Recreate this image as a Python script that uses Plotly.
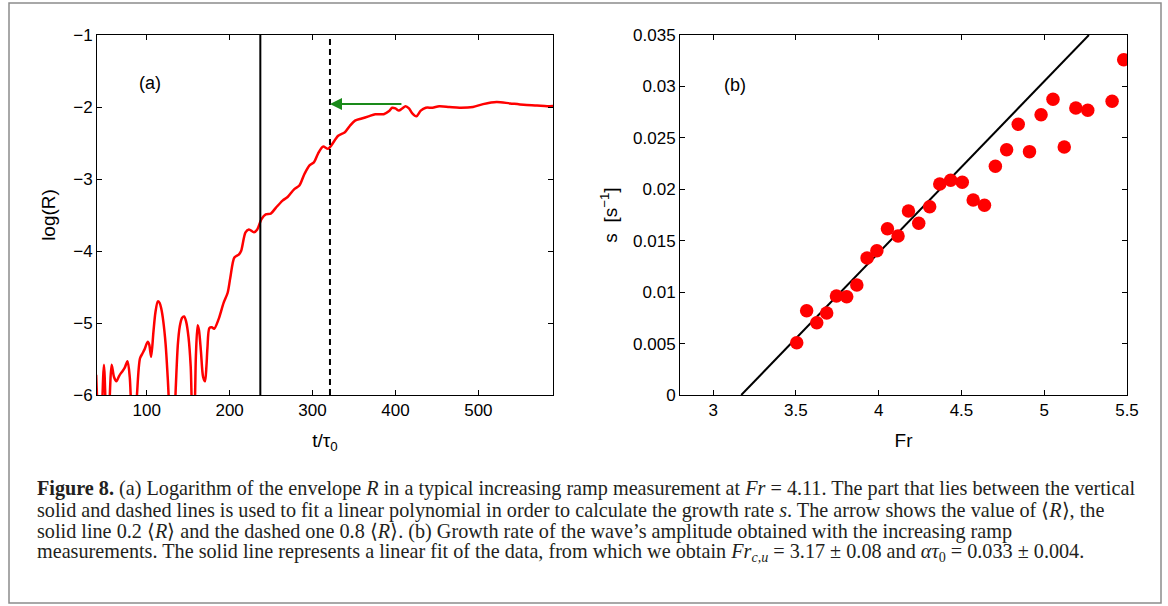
import plotly.graph_objects as go

# ---------------- Panel (a) data ----------------
t_tau = [39.0, 43.8, 48.4, 52.5, 57.7, 60.5, 63.4, 66.5, 68.7, 70.7, 73.5, 76.8, 79.5, 84.0,
         88.2, 91.9, 95.0, 97.2, 101.2, 103.0, 105.3, 108.1, 110.5, 113.4, 115.5, 117.5, 120.0,
         122.8, 125.5, 131.0, 135.0, 137.5, 139.8, 142.5, 145.1, 147.5, 150.4, 153.0, 155.5,
         157.3, 159.3, 161.4, 163.0, 165.4, 168.0, 170.3, 172.0, 173.2, 175.6, 178.5, 181.3,
         186.6, 192.7, 197.6, 200.8, 205.7, 211.0, 213.8, 219.1, 223.2, 229.3, 233.3, 238.2,
         243.5, 249.6, 255.7, 263.8, 269.9, 278.0, 284.1, 290.2, 296.3, 301.6, 306.5, 312.6,
         318.7, 322.8, 330.9, 339.0, 345.1, 351.2, 359.3, 367.5, 375.6, 385.8, 391.9, 396.0,
         400.0, 404.1, 408.1, 412.2, 416.3, 420.3, 425.2, 430.5, 436.6, 444.7, 452.8, 465.0,
         477.2, 493.5, 505.7, 522.0, 538.2, 554.5, 570.7, 582.9, 595.0]
log_R = [-5.72, -6.8, -5.58, -6.8, -5.58, -5.75, -5.81, -5.74, -5.70, -5.67, -5.62, -5.53, -5.75, -6.9,
         -6.0, -5.49, -5.42, -5.37, -5.26, -5.30, -5.47, -5.12, -4.85, -4.70, -4.72, -4.80, -4.98,
         -5.30, -5.8, -7.0, -5.9, -5.3, -5.05, -4.93, -4.91, -4.98, -5.20, -5.6, -6.4,
         -6.3, -5.45, -5.03, -5.10, -5.40, -5.75, -5.81, -5.60, -5.35, -5.07, -5.06, -5.08,
         -4.95, -4.72, -4.58, -4.37, -4.09, -4.05, -4.00, -3.74, -3.70, -3.74, -3.70, -3.56,
         -3.49, -3.48, -3.40, -3.30, -3.25, -3.14, -3.09, -2.93, -2.81, -2.77, -2.65, -2.55,
         -2.58, -2.53, -2.40, -2.35, -2.26, -2.19, -2.16, -2.13, -2.10, -2.10, -2.06, -2.01,
         -2.02, -2.05, -2.02, -1.99, -2.02, -2.09, -2.13, -2.05, -2.01, -2.01, -1.99, -2.00,
         -2.01, -2.00, -1.96, -1.93, -1.95, -1.97, -1.98, -1.99, -1.98]
solid_line_t = 237
dashed_line_t = 321
arrow_t = [409, 321]
arrow_logR = -1.96
a_xticks = [100, 200, 300, 400, 500]
a_yticks = [-6, -5, -4, -3, -2, -1]

# ---------------- Panel (b) data ----------------
Fr = [3.505, 3.565, 3.626, 3.686, 3.745, 3.807, 3.868, 3.930, 3.989, 4.053, 4.117, 4.180,
      4.242, 4.308, 4.369, 4.435, 4.505, 4.571, 4.639, 4.705, 4.773, 4.843, 4.911, 4.981,
      5.053, 5.121, 5.191, 5.263, 5.410, 5.480]
s_rate = [0.00509, 0.00820, 0.00703, 0.00797, 0.00963, 0.00956, 0.01069, 0.01332, 0.01403,
          0.01617, 0.01546, 0.01789, 0.01669, 0.01831, 0.02051, 0.02087, 0.02068, 0.01896,
          0.01844, 0.02223, 0.02385, 0.02632, 0.02366, 0.02725, 0.02875, 0.02411, 0.02790,
          0.02768, 0.02855, 0.03260]
fit_Fr = [3.17, 5.27]
fit_s = [0.0, 0.035]
b_xticks = [3, 3.5, 4, 4.5, 5, 5.5]
b_xticklabels = ["3", "3.5", "4", "4.5", "5", "5.5"]
b_yticks = [0, 0.005, 0.01, 0.015, 0.02, 0.025, 0.03, 0.035]
b_yticklabels = ["0", "0.005", "0.01", "0.015", "0.02", "0.025", "0.03", "0.035"]

caption_lines = [
    "<b>Figure 8.</b> (a) Logarithm of the envelope <i>R</i> in a typical increasing ramp measurement at <i>Fr</i> = 4.11. The part that lies between the vertical",
    "solid and dashed lines is used to fit a linear polynomial in order to calculate the growth rate <i>s</i>. The arrow shows the value of \u27e8<i>R</i>\u27e9, the",
    "solid line 0.2 \u27e8<i>R</i>\u27e9 and the dashed one 0.8 \u27e8<i>R</i>\u27e9. (b) Growth rate of the wave\u2019s amplitude obtained with the increasing ramp",
    "measurements. The solid line represents a linear fit of the data, from which we obtain <i>Fr</i><sub><i>c,u</i></sub> = 3.17 \u00b1 0.08 and <i>\u03b1\u03c4</i><sub>0</sub> = 0.033 \u00b1 0.004.",
]

W, H = 1168, 606
SANS = "Liberation Sans, Arial, Helvetica, sans-serif"
SERIF = "Liberation Serif, Times New Roman, serif"

fig = go.Figure()

# panel a
fig.add_trace(go.Scatter(x=t_tau, y=log_R, mode="lines", line=dict(color="#ff0000", width=2.5, shape="spline", smoothing=0.8),
                         xaxis="x", yaxis="y", showlegend=False))
fig.add_trace(go.Scatter(x=[solid_line_t, solid_line_t], y=[a_yticks[0], a_yticks[-1]], mode="lines",
                         line=dict(color="black", width=2), xaxis="x", yaxis="y", showlegend=False))
fig.add_trace(go.Scatter(x=[dashed_line_t, dashed_line_t], y=[a_yticks[0], a_yticks[-1]], mode="lines",
                         line=dict(color="black", width=2, dash="6px,4px"), xaxis="x", yaxis="y", showlegend=False))

# panel b
fig.add_trace(go.Scatter(x=fit_Fr, y=fit_s, mode="lines", line=dict(color="black", width=2),
                         xaxis="x2", yaxis="y2", showlegend=False))
fig.add_trace(go.Scatter(x=Fr, y=s_rate, mode="markers", marker=dict(color="#ff0000", size=13.5),
                         xaxis="x2", yaxis="y2", showlegend=False))

axcommon = dict(showline=True, linecolor="black", linewidth=1, mirror="ticks", ticks="inside",
                ticklen=5, tickcolor="black", tickwidth=1, showgrid=False, zeroline=False,
                automargin=False, tickfont=dict(family=SANS, size=17, color="black"))
title_font = dict(family=SANS, size=19, color="black")

ya_dom = [1 - 395 / H, 1 - 35 / H]
fig.update_layout(
    width=W, height=H, margin=dict(l=0, r=0, t=0, b=0),
    paper_bgcolor="white", plot_bgcolor="white",
    xaxis=dict(domain=[97 / W, 553 / W], range=[40, 590], tickvals=a_xticks, anchor="y",
               title=dict(text="t/\u03c4<sub>0</sub>", font=title_font, standoff=14), **axcommon),
    yaxis=dict(domain=ya_dom, range=[-6, -1], tickvals=a_yticks, anchor="x",
               title=dict(text="log(R)", font=title_font, standoff=12), **axcommon),
    xaxis2=dict(domain=[680 / W, 1127 / W], range=[2.8, 5.5], tickvals=b_xticks, ticktext=b_xticklabels, anchor="y2",
                title=dict(text="Fr", font=title_font, standoff=14), **axcommon),
    yaxis2=dict(domain=ya_dom, range=[0, 0.035], tickvals=b_yticks, ticktext=b_yticklabels, anchor="x2",
                title=dict(text="s  [s<sup>\u22121</sup>]", font=title_font, standoff=10), **axcommon),
)

annotations = [
    dict(x=arrow_t[1], y=arrow_logR, ax=arrow_t[0], ay=arrow_logR, xref="x", yref="y", axref="x", ayref="y",
         showarrow=True, arrowhead=2, arrowsize=1.2, arrowwidth=2, arrowcolor="#1a8a1a", text=""),
    dict(x=137 / W, y=1 - 71 / H, xref="paper", yref="paper", text="(a)", showarrow=False,
         font=dict(family=SANS, size=18, color="black")),
    dict(x=735 / W, y=1 - 73 / H, xref="paper", yref="paper", text="(b)", showarrow=False,
         font=dict(family=SANS, size=18, color="black")),
]
caption_y = [488, 510, 531, 552]
for txt, yy in zip(caption_lines, caption_y):
    annotations.append(dict(x=35 / W, y=1 - yy / H, xref="paper", yref="paper", text=txt, showarrow=False,
                            xanchor="left", yanchor="middle", align="left",
                            font=dict(family=SERIF, size=20.2, color="#231f20")))
fig.update_layout(annotations=annotations)

fig.add_shape(type="rect", xref="paper", yref="paper", x0=9 / W, x1=1161 / W, y0=1 - 603 / H, y1=1 - 3 / H,
              line=dict(color="#8c8c8c", width=1.5))

fig.write_html("out.html")
